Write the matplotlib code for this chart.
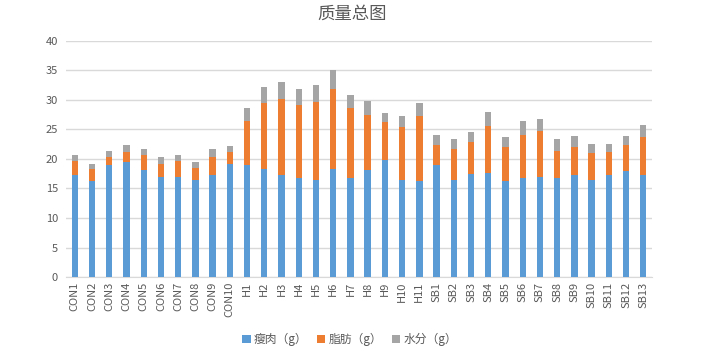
import matplotlib
matplotlib.use('Agg')
import matplotlib.pyplot as plt
import numpy as np

plt.rcParams['font.family'] = ['Noto Sans CJK SC', 'DejaVu Sans']

cats = ['CON1', 'CON2', 'CON3', 'CON4', 'CON5', 'CON6', 'CON7', 'CON8', 'CON9', 'CON10',
        'H1', 'H2', 'H3', 'H4', 'H5', 'H6', 'H7', 'H8', 'H9', 'H10', 'H11',
        'SB1', 'SB2', 'SB3', 'SB4', 'SB5', 'SB6', 'SB7', 'SB8', 'SB9', 'SB10', 'SB11', 'SB12', 'SB13']

# lean meat (g)
lean = [17.2, 16.2, 19.0, 19.5, 18.2, 17.0, 17.0, 16.5, 17.3, 19.2,
        19.0, 18.3, 17.3, 16.8, 16.5, 18.3, 16.7, 18.1, 19.9, 16.5, 16.2,
        18.9, 16.5, 17.5, 17.6, 16.2, 16.7, 16.9, 16.7, 17.2, 16.5, 17.3, 17.9, 17.3]
# fat (g)
fat = [2.5, 2.1, 1.4, 1.7, 2.4, 2.2, 2.6, 1.9, 3.0, 2.0,
       7.5, 11.2, 12.9, 12.4, 13.1, 13.6, 12.0, 9.4, 6.3, 8.9, 11.0,
       3.4, 5.2, 5.3, 8.0, 5.8, 7.4, 7.8, 4.7, 4.9, 4.5, 3.9, 4.5, 6.4]
# water (g)
water = [0.9, 0.9, 1.0, 1.2, 1.0, 1.1, 1.1, 1.1, 1.3, 1.0,
         2.2, 2.7, 2.9, 2.6, 2.9, 3.1, 2.2, 2.3, 1.5, 1.8, 2.2,
         1.8, 1.7, 1.7, 2.3, 1.7, 2.3, 2.1, 1.9, 1.7, 1.6, 1.3, 1.5, 2.1]

blue = '#5B9BD5'
orange = '#ED7D31'
gray = '#A5A5A5'
txt = '#595959'

fig = plt.figure(figsize=(7.04, 3.52), dpi=100)
ax = fig.add_axes([0.094, 0.213, 0.832, 0.671])

x = np.arange(len(cats))
lean = np.array(lean)
fat = np.array(fat)
water = np.array(water)
w = 0.37
ax.bar(x, lean, w, color=blue, label='瘦肉（g）', zorder=3)
ax.bar(x, fat, w, bottom=lean, color=orange, label='脂肪（g）', zorder=3)
ax.bar(x, water, w, bottom=lean + fat, color=gray, label='水分（g）', zorder=3)

ax.set_xlim(-0.5, len(cats) - 0.5)
ax.set_ylim(0, 40)
ax.set_yticks(range(0, 41, 5))
ax.yaxis.grid(True, color='#D9D9D9', linewidth=1, zorder=0)
ax.set_xticks(x)
ax.set_xticklabels(cats, rotation=90)
ax.tick_params(axis='both', length=0, colors=txt, labelsize=8)
ax.tick_params(axis='y', pad=6)
for s in ['top', 'right', 'left']:
    ax.spines[s].set_visible(False)
ax.spines['bottom'].set_color('#D9D9D9')

fig.text(0.5, 0.961, '质量总图', ha='center', va='center', fontsize=12.5, color=txt)
fig.legend(loc='center', bbox_to_anchor=(0.497, 0.035), ncol=3, frameon=False,
           fontsize=8.5, labelcolor=txt, handlelength=0.7, handleheight=0.7,
           handletextpad=0.3, columnspacing=0.8)

fig.savefig('out.png', dpi=100)
